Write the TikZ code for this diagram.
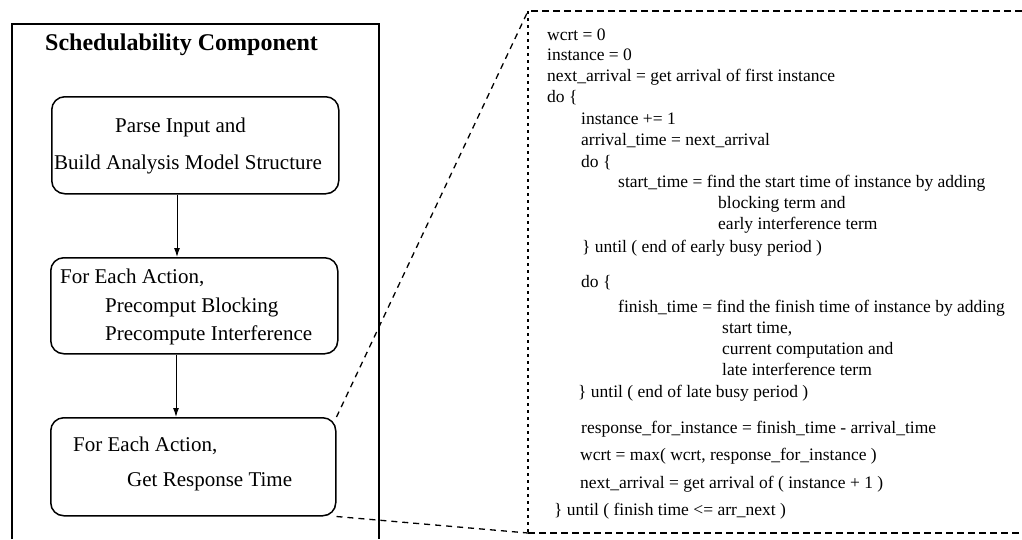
\documentclass[tikz,border=0pt]{standalone}
\usepackage{fontspec}
\setmainfont{Liberation Serif}
\usetikzlibrary{arrows.meta}
\begin{document}
\begin{tikzpicture}[x=1pt,y=-1pt,
  outerframe/.style={line width=1.4pt},
  stagebox/.style={draw, line width=1.5pt, rounded corners=13pt, anchor=north west, inner sep=0pt},
  flow/.style={line width=1pt, -{Latex[length=9pt,width=6pt]}},
  boxtext/.style={anchor=base west, inner sep=0pt, font=\fontsize{21}{24}\selectfont},
  codeline/.style={anchor=base west, inner sep=0pt, font=\fontsize{17.5}{20}\selectfont},
  zoomline/.style={line width=1.3pt, dash pattern=on 6pt off 5pt},
  panelline/.style={line width=1.3pt, dash pattern=on 7pt off 4pt},
]
\useasboundingbox (0,0) rectangle (1022,539);

% component frame (open at the bottom)
\draw[outerframe] (12,539) -- (12,24) -- (379,24) -- (379,539);
\node[anchor=base west, inner sep=0pt, font=\bfseries\fontsize{24}{28}\selectfont] (title) at (45,50) {Schedulability Component};

% processing stages
\node[stagebox, minimum width=287pt, minimum height=97pt] (box1) at (51,96) {};
\node[stagebox, minimum width=287pt, minimum height=96pt] (box2) at (50,257) {};
\node[stagebox, minimum width=285pt, minimum height=98pt] (box3) at (50,417) {};

\node[boxtext] (t11) at (115,132) {Parse Input and};
\node[boxtext] (t12) at (54,169) {Build Analysis Model Structure};
\node[boxtext] (t21) at (60,283) {For Each Action,};
\node[boxtext] (t22) at (105,312) {Precomput Blocking};
\node[boxtext] (t23) at (105,340) {Precompute Interference};
\node[boxtext] (t31) at (73,451) {For Each Action,};
\node[boxtext] (t32) at (127,486) {Get Response Time};

\draw[flow] ([xshift=126pt]box1.south west) -- ([xshift=126pt]box1.south west |- box2.north);
\draw[flow] ([xshift=126pt]box2.south west) -- ([xshift=126pt]box2.south west |- box3.north);

% detail panel for the response-time step
\coordinate (panelTL) at (528,11);
\coordinate (panelBL) at (528,533);
\draw[panelline] (1022,11) -- (panelTL);
\draw[panelline] (panelBL) -- (1022,533);
\draw[line width=1.3pt, dash pattern=on 3pt off 4pt] (panelTL) -- (panelBL);

\draw[zoomline] (box3.north east) -- (panelTL);
\draw[zoomline] (box3.south east) -- (panelBL);

% response-time algorithm
\node[codeline] (c01) at (547,40)  {wcrt = 0};
\node[codeline] (c02) at (547,60)  {instance = 0};
\node[codeline] (c03) at (547,81)  {next\_arrival = get arrival of first instance};
\node[codeline] (c04) at (547,102) {do \{};
\node[codeline] (c05) at (581,124) {instance += 1};
\node[codeline] (c06) at (581,145) {arrival\_time = next\_arrival};
\node[codeline] (c07) at (581,167) {do \{};
\node[codeline] (c08) at (618,187) {start\_time = find the start time of instance by adding};
\node[codeline] (c09) at (718,208) {blocking term and};
\node[codeline] (c10) at (718,229) {early interference term};
\node[codeline] (c11) at (582,252) {\} until ( end of early busy period )};
\node[codeline] (c12) at (581,287) {do \{};
\node[codeline] (c13) at (618,312) {finish\_time = find the finish time of instance by adding};
\node[codeline] (c14) at (722,333) {start time,};
\node[codeline] (c15) at (722,354) {current computation and};
\node[codeline] (c16) at (722,375) {late interference term};
\node[codeline] (c17) at (578,397) {\} until ( end of late busy period )};
\node[codeline] (c18) at (581,433) {response\_for\_instance = finish\_time - arrival\_time};
\node[codeline] (c19) at (580,460) {wcrt = max( wcrt, response\_for\_instance )};
\node[codeline] (c20) at (580,488) {next\_arrival = get arrival of ( instance + 1 )};
\node[codeline] (c21) at (554,515) {\} until ( finish time <= arr\_next )};
\end{tikzpicture}
\end{document}
